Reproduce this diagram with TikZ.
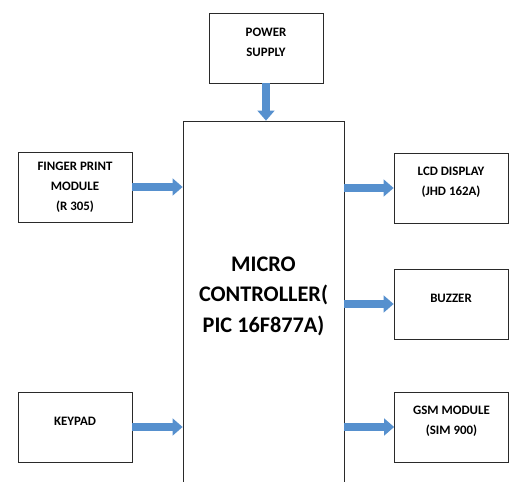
\documentclass[tikz,border=0pt]{standalone}
\usepackage{fontspec}
\setmainfont{Carlito}
\usepackage{tikz}
\usetikzlibrary{arrows.meta, positioning}
\definecolor{flowblue}{HTML}{5690CE}
\definecolor{boxline}{HTML}{2A2A2A}

\begin{document}
\begin{tikzpicture}[x=0.03cm, y=-0.03cm,
    block/.style={draw=boxline, line width=0.6pt, minimum width=3.42cm, minimum height=2.1cm, inner sep=0pt},
    blocktext/.style={align=center, font=\fontsize{11}{17}\selectfont\bfseries, yshift=0.18cm},
    mcublock/.style={draw=boxline, line width=0.6pt, minimum width=4.83cm, minimum height=11.4cm, inner sep=0pt},
    mcutext/.style={align=center, font=\fontsize{19}{26}\selectfont\bfseries},
    flow/.style={line width=0.24cm, draw=flowblue, -{Triangle[width=0.5cm, length=0.3cm]}}]

\useasboundingbox (0,0) rectangle (509,482);

\node[block, label={[blocktext]center:POWER\\SUPPLY}] (power) at (266,48) {};
\node[mcublock] (mcu) at (263.5,311) {};
\node[mcutext] (mcutxt) at (263.5,296) {MICRO\\CONTROLLER(\\PIC 16F877A)};
\node[block, label={[blocktext, yshift=-0.18cm]center:FINGER PRINT\\MODULE\\(R 305)}] (finger) at (75,187) {};
\node[block, label={[blocktext]center:KEYPAD}] (keypad) at (75,427) {};
\node[block, label={[blocktext]center:LCD DISPLAY\\(JHD 162A)}] (lcd) at (451,188) {};
\node[block, label={[blocktext]center:BUZZER}] (buzzer) at (451,304) {};
\node[block, label={[blocktext]center:GSM MODULE\\(SIM 900)}] (gsm) at (451.5,427) {};

\draw[flow] (power.south) -- (power.south |- mcu.north);
\draw[flow] (finger.east) -- (finger.east -| mcu.west);
\draw[flow] (keypad.east) -- (keypad.east -| mcu.west);
\draw[flow] (mcu.east |- lcd.west) -- (lcd.west);
\draw[flow] (mcu.east |- buzzer.west) -- (buzzer.west);
\draw[flow] (mcu.east |- gsm.west) -- (gsm.west);
\end{tikzpicture}
\end{document}
